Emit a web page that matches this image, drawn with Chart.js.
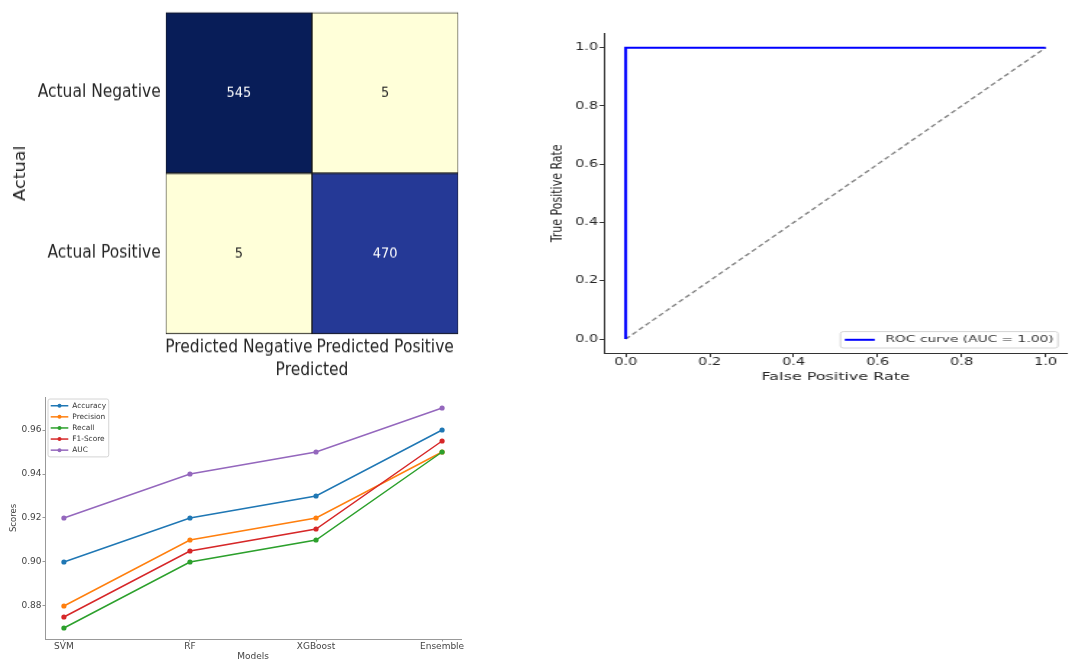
<!DOCTYPE html>
<html>
<head>
<meta charset="utf-8">
<script src="https://cdn.jsdelivr.net/npm/chart.js@4.4.1/dist/chart.umd.min.js"></script>
<style>
  body { margin: 0; width: 1081px; height: 659px; overflow: hidden; position: relative; background: #fff; }
  canvas { position: absolute; }
  #cm { left: 0; top: 0; transform: scaleY(1.14); transform-origin: 0 0; }
  #roc { left: 540px; top: 0; transform: scaleX(1.45); transform-origin: 0 0; }
  #scores { left: 0; top: 385px; }
</style>
</head>
<body>
<canvas id="cm" width="480" height="340"></canvas>
<canvas id="roc" width="373" height="395"></canvas>
<canvas id="scores" width="480" height="280"></canvas>
<script>
// confusion matrix
const predictedLabels = ['Predicted Negative', 'Predicted Positive'];
const actualLabels = ['Actual Negative', 'Actual Positive'];
const confusionCounts = [[545, 5], [5, 470]];

// roc curve
const rocFpr = [0, 0, 1];
const rocTpr = [0, 1, 1];
const chanceX = [0, 1];
const chanceY = [0, 1];
const rocTicks = [0, 0.2, 0.4, 0.6, 0.8, 1.0];

// model comparison
const models = ['SVM', 'RF', 'XGBoost', 'Ensemble'];
const accuracy = [0.90, 0.92, 0.93, 0.96];
const precision = [0.88, 0.91, 0.92, 0.95];
const recall = [0.87, 0.90, 0.91, 0.95];
const f1Score = [0.875, 0.905, 0.915, 0.955];
const auc = [0.92, 0.94, 0.95, 0.97];
const scoreTicks = [0.88, 0.90, 0.92, 0.94, 0.96];

Chart.defaults.font.family = '"DejaVu Sans", sans-serif';
Chart.defaults.animation = false;

const ylgnbu = ['#ffffd9', '#edf8b1', '#c7e9b4', '#7fcdbb', '#41b6c4', '#1d91c0', '#225ea8', '#253494', '#081d58'];

const hexToRgb = hex => [1, 3, 5].map(i => parseInt(hex.slice(i, i + 2), 16));

const colorFor = (v, min, max) => {
    const t = Math.max(0, Math.min(1, (v - min) / (max - min))) * (ylgnbu.length - 1);
    const i = Math.min(Math.floor(t), ylgnbu.length - 2);
    const f = t - i;
    const a = hexToRgb(ylgnbu[i]);
    const b = hexToRgb(ylgnbu[i + 1]);
    const c = a.map((x, k) => Math.round(x + (b[k] - x) * f));
    return `rgb(${c[0]},${c[1]},${c[2]})`;
};

const fixWidth = w => scale => { scale.width = w; };
const fixHeight = h => scale => { scale.height = h; };
const setTicks = values => scale => { scale.ticks = values.map(v => ({ value: v })); };

const insideLegend = {
    id: 'insideLegend',
    afterDraw(chart, args, opts) {
        const ctx = chart.ctx;
        const area = chart.chartArea;
        const items = chart.data.datasets.filter(d => d.label);
        ctx.save();
        ctx.font = `${opts.fontSize}px "DejaVu Sans"`;
        const textW = Math.max(...items.map(d => ctx.measureText(d.label).width));
        const w = opts.padX * 2 + opts.handle + opts.gap + textW;
        const h = opts.padY * 2 + items.length * opts.rowH;
        const x = opts.corner === 'br' ? area.right - opts.insetX - w : area.left + opts.insetX;
        const y = opts.corner === 'br' ? area.bottom - opts.insetY - h : area.top + opts.insetY;
        ctx.fillStyle = 'rgba(255,255,255,0.85)';
        ctx.strokeStyle = '#d4d4d4';
        ctx.lineWidth = 1;
        ctx.beginPath();
        if (ctx.roundRect) ctx.roundRect(x, y, w, h, 2); else ctx.rect(x, y, w, h);
        ctx.fill();
        ctx.stroke();
        items.forEach((d, i) => {
            const cy = y + opts.padY + (i + 0.5) * opts.rowH;
            const hx = x + opts.padX;
            ctx.strokeStyle = d.borderColor;
            ctx.lineWidth = d.borderWidth;
            ctx.beginPath();
            ctx.moveTo(hx, cy);
            ctx.lineTo(hx + opts.handle, cy);
            ctx.stroke();
            if (opts.marker) {
                ctx.fillStyle = d.borderColor;
                ctx.beginPath();
                ctx.arc(hx + opts.handle / 2, cy, opts.marker, 0, Math.PI * 2);
                ctx.fill();
            }
            ctx.fillStyle = '#333';
            ctx.textAlign = 'left';
            ctx.textBaseline = 'middle';
            ctx.fillText(d.label, hx + opts.handle + opts.gap, cy);
        });
        ctx.restore();
    }
};

// --- confusion matrix ---
const flat = confusionCounts.flat();
const cmMin = Math.min(...flat);
const cmMax = Math.max(...flat);

const cellText = {
    id: 'cellText',
    afterDatasetsDraw(chart) {
        const ctx = chart.ctx;
        ctx.save();
        ctx.font = '13px "DejaVu Sans"';
        ctx.textAlign = 'center';
        ctx.textBaseline = 'middle';
        chart.data.datasets.forEach((ds, r) => {
            chart.getDatasetMeta(r).data.forEach((bar, c) => {
                const v = confusionCounts[r][c];
                ctx.fillStyle = (v - cmMin) / (cmMax - cmMin) > 0.5 ? '#ffffff' : '#262626';
                ctx.fillText(String(v), bar.x, (bar.y + bar.base) / 2);
            });
        });
        ctx.restore();
    }
};

new Chart(document.getElementById('cm'), {
    type: 'bar',
    data: {
        labels: predictedLabels,
        datasets: actualLabels.map((name, r) => ({
            label: name,
            data: predictedLabels.map(() => [actualLabels.length - r - 1, actualLabels.length - r]),
            backgroundColor: confusionCounts[r].map(v => colorFor(v, cmMin, cmMax)),
            borderColor: '#1a1a1a',
            borderWidth: 1,
            borderSkipped: false,
            grouped: false,
            barPercentage: 1,
            categoryPercentage: 1
        }))
    },
    options: {
        responsive: false,
        layout: { padding: { top: 10.8, right: 21.7, left: 0, bottom: 0 } },
        plugins: { legend: { display: false }, tooltip: { enabled: false } },
        scales: {
            x: {
                grid: { display: false, drawTicks: false },
                border: { display: false },
                ticks: { color: '#262626', font: { size: 15.5 }, padding: 2.7, autoSkip: false, maxRotation: 0, minRotation: 0 },
                title: { display: true, text: 'Predicted', color: '#262626', font: { size: 15.5 }, padding: { top: 0, bottom: 6 } },
                afterFit: fixHeight(47)
            },
            y: {
                type: 'linear',
                min: 0,
                max: actualLabels.length,
                grid: { display: false, drawTicks: true, tickLength: 5 },
                border: { display: false },
                afterBuildTicks: setTicks(actualLabels.map((_, r) => actualLabels.length - r - 0.5)),
                ticks: {
                    color: '#262626',
                    font: { size: 15.5 },
                    padding: 0,
                    callback: v => actualLabels[actualLabels.length - 1 - Math.floor(v)]
                },
                title: { display: true, text: 'Actual', color: '#262626', font: { size: 15.5 }, padding: { top: 11.8, bottom: 0 } },
                afterFit: fixWidth(165.7)
            }
        }
    },
    plugins: [cellText]
});

// --- roc curve ---
new Chart(document.getElementById('roc'), {
    type: 'line',
    data: {
        datasets: [
            {
                label: 'ROC curve (AUC = 1.00)',
                data: rocFpr.map((x, i) => ({ x, y: rocTpr[i] })),
                borderColor: '#0000ff',
                borderWidth: 2,
                pointRadius: 0,
                tension: 0
            },
            {
                data: chanceX.map((x, i) => ({ x, y: chanceY[i] })),
                borderColor: '#808080',
                borderWidth: 1.3,
                borderDash: [4, 2.5],
                pointRadius: 0
            }
        ]
    },
    options: {
        responsive: false,
        layout: { padding: { top: 33.1, right: 9.8, left: 0, bottom: 0 } },
        plugins: {
            legend: { display: false },
            tooltip: { enabled: false },
            insideLegend: { corner: 'br', fontSize: 9.5, padX: 3, padY: 2.2, rowH: 12, handle: 20.7, gap: 7.3, insetX: 6, insetY: 5.6 }
        },
        scales: {
            x: {
                type: 'linear',
                min: -0.05,
                max: 1.05,
                afterBuildTicks: setTicks(rocTicks),
                grid: { display: true, drawOnChartArea: false, drawTicks: true, tickLength: 3.5, color: '#333' },
                border: { display: true, color: '#333', width: 1 },
                ticks: { color: '#262626', font: { size: 10, lineHeight: 1 }, padding: 0, callback: v => v.toFixed(1) },
                title: { display: true, text: 'False Positive Rate', color: '#262626', font: { size: 11 }, padding: { top: 0, bottom: 11 } },
                afterFit: fixHeight(41.4)
            },
            y: {
                type: 'linear',
                min: -0.05,
                max: 1.05,
                afterBuildTicks: setTicks(rocTicks),
                grid: { display: true, drawOnChartArea: false, drawTicks: true, tickLength: 3.5, color: '#333' },
                border: { display: true, color: '#333', width: 1 },
                ticks: { color: '#262626', font: { size: 10 }, padding: 1, callback: v => v.toFixed(1) },
                title: { display: true, text: 'True Positive Rate', color: '#262626', font: { size: 11 }, padding: { top: 5.8, bottom: 0 } },
                afterFit: fixWidth(44.6)
            }
        }
    },
    plugins: [insideLegend]
});

// --- model scores ---
const scoreSeries = [
    { label: 'Accuracy', values: accuracy, color: '#1f77b4' },
    { label: 'Precision', values: precision, color: '#ff7f0e' },
    { label: 'Recall', values: recall, color: '#2ca02c' },
    { label: 'F1-Score', values: f1Score, color: '#d62728' },
    { label: 'AUC', values: auc, color: '#9467bd' }
];

new Chart(document.getElementById('scores'), {
    type: 'line',
    data: {
        datasets: scoreSeries.map((s, i) => ({
            label: s.label,
            data: s.values.map((y, x) => ({ x, y })),
            borderColor: s.color,
            backgroundColor: s.color,
            borderWidth: 1.5,
            pointRadius: 2.6,
            pointBorderWidth: 0,
            tension: 0,
            order: scoreSeries.length - i
        }))
    },
    options: {
        responsive: false,
        layout: { padding: { top: 12, right: 19, left: 0, bottom: 0 } },
        plugins: {
            legend: { display: false },
            tooltip: { enabled: false },
            insideLegend: { corner: 'tl', fontSize: 7.4, padX: 2.7, padY: 1.2, rowH: 11.1, handle: 17.6, gap: 4, insetX: 3, insetY: 2, marker: 2 }
        },
        scales: {
            x: {
                type: 'linear',
                min: -0.15,
                max: models.length - 1 + 0.15,
                afterBuildTicks: setTicks(models.map((_, i) => i)),
                grid: { display: true, drawOnChartArea: false, drawTicks: true, tickLength: 2.5, color: '#999' },
                border: { display: true, color: '#999', width: 1 },
                ticks: { color: '#444', font: { size: 9, lineHeight: 1 }, padding: 0.5, callback: v => models[v] },
                title: { display: true, text: 'Models', color: '#444', font: { size: 9, lineHeight: 1 }, padding: { top: 0, bottom: 3.5 } },
                afterFit: fixHeight(26)
            },
            y: {
                type: 'linear',
                min: 0.865,
                max: 0.975,
                afterBuildTicks: setTicks(scoreTicks),
                grid: { display: true, drawOnChartArea: false, drawTicks: true, tickLength: 2.5, color: '#999' },
                border: { display: true, color: '#999', width: 1 },
                ticks: { color: '#444', font: { size: 9 }, padding: 1, callback: v => v.toFixed(2) },
                title: { display: true, text: 'Scores', color: '#444', font: { size: 8.5, lineHeight: 1 }, padding: { top: 9.75, bottom: 0 } },
                afterFit: fixWidth(45)
            }
        }
    },
    plugins: [insideLegend]
});
</script>
</body>
</html>
